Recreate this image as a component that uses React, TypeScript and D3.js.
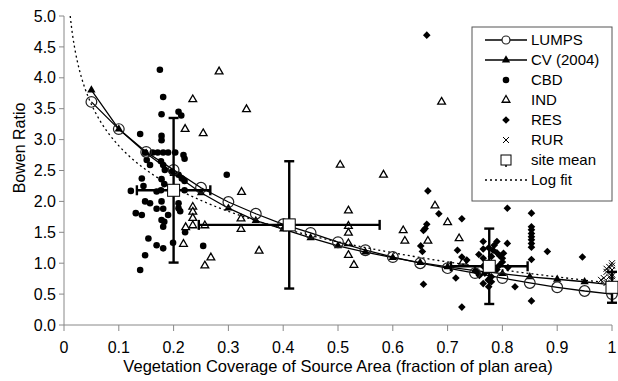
import React from "react";
import * as d3 from "d3";

const W = 618;
const H = 381;

const xTicks = [0, 0.1, 0.2, 0.3, 0.4, 0.5, 0.6, 0.7, 0.8, 0.9, 1];
const yTicks = [0, 0.5, 1, 1.5, 2, 2.5, 3, 3.5, 4, 4.5, 5];

const modelX = [0.05, 0.1, 0.15, 0.2, 0.25, 0.3, 0.35, 0.4, 0.45, 0.5, 0.55, 0.6, 0.65, 0.7, 0.75, 0.8, 0.85, 0.9, 0.95, 1.0];
const lumpsY = [3.61, 3.17, 2.8, 2.51, 2.22, 1.99, 1.8, 1.63, 1.49, 1.34, 1.21, 1.1, 1.0, 0.92, 0.84, 0.76, 0.68, 0.61, 0.55, 0.5];
const cvY = [3.8, 3.17, 2.78, 2.45, 2.14, 1.89, 1.69, 1.55, 1.41, 1.28, 1.18, 1.09, 1.01, 0.94, 0.88, 0.83, 0.78, 0.74, 0.7, 0.65];

const logFitA = 0.676;
const logFitB = -0.966;

const cbdPoints: [number, number][] = [
  [0.175, 4.13], [0.181, 3.69], [0.178, 3.41], [0.209, 3.45], [0.214, 3.39], [0.139, 3.09],
  [0.178, 3.06], [0.178, 2.99], [0.218, 2.75], [0.22, 2.69], [0.148, 2.79], [0.162, 2.79],
  [0.171, 2.79], [0.181, 2.79], [0.19, 2.79], [0.203, 2.79], [0.151, 2.67], [0.177, 2.65],
  [0.157, 2.59], [0.181, 2.59], [0.184, 2.51], [0.197, 2.48], [0.209, 2.43], [0.215, 2.37],
  [0.22, 2.33], [0.142, 2.37], [0.178, 2.36], [0.145, 2.25], [0.183, 2.28], [0.122, 2.17],
  [0.169, 2.16], [0.177, 2.18], [0.22, 2.18], [0.148, 2.0], [0.157, 1.97], [0.178, 2.0],
  [0.209, 1.97], [0.131, 1.81], [0.142, 1.78], [0.169, 1.88], [0.181, 1.88], [0.19, 1.78],
  [0.209, 1.89], [0.212, 1.84], [0.178, 1.7], [0.183, 1.67], [0.181, 1.59], [0.221, 1.5],
  [0.154, 1.4], [0.169, 1.29], [0.181, 1.24], [0.199, 1.33], [0.254, 1.28], [0.148, 1.13],
  [0.139, 0.89], [0.297, 2.43],
];

const indPoints: [number, number][] = [
  [0.283, 4.1], [0.235, 3.65], [0.221, 3.17], [0.254, 3.1], [0.235, 1.91], [0.235, 1.83],
  [0.235, 1.73], [0.235, 1.61], [0.222, 1.58], [0.257, 1.61], [0.218, 1.31], [0.268, 1.09],
  [0.257, 0.96], [0.333, 3.49], [0.504, 2.59], [0.583, 2.43], [0.324, 2.15], [0.519, 1.85],
  [0.323, 1.72], [0.519, 1.6], [0.323, 1.55], [0.519, 1.49], [0.519, 1.32], [0.356, 1.2],
  [0.519, 1.13], [0.529, 0.97], [0.689, 3.61], [0.677, 1.93], [0.7, 1.66], [0.619, 1.53],
  [0.622, 1.36], [0.664, 1.36], [0.721, 1.4], [0.728, 1.02],
];

const resPoints: [number, number][] = [
  [0.662, 4.69], [0.664, 2.17], [0.684, 1.8], [0.726, 1.72], [0.662, 1.63], [0.659, 1.56],
  [0.656, 1.53], [0.651, 1.28], [0.654, 1.19], [0.718, 1.21], [0.726, 1.1], [0.735, 1.05],
  [0.715, 0.76], [0.656, 0.66], [0.726, 0.29], [0.809, 1.89], [0.809, 1.32], [0.802, 1.16],
  [0.823, 0.62], [0.765, 1.35], [0.765, 1.23], [0.765, 1.08], [0.765, 0.95], [0.768, 0.84],
  [0.765, 0.67], [0.783, 1.21], [0.79, 1.17], [0.795, 1.12], [0.8, 1.08], [0.774, 0.73],
  [0.78, 0.78], [0.753, 0.86], [0.758, 0.8], [0.772, 1.0], [0.79, 0.9], [0.795, 0.97],
  [0.78, 1.11], [0.785, 1.29], [0.775, 1.25], [0.8, 1.02], [0.81, 0.93], [0.757, 1.14],
  [0.775, 0.62], [0.79, 1.35], [0.78, 0.7], [0.853, 1.81], [0.853, 1.59], [0.853, 1.54],
  [0.853, 1.48], [0.853, 1.43], [0.853, 1.38], [0.853, 1.32], [0.853, 1.26], [0.853, 1.06],
  [0.853, 0.39], [0.882, 1.19], [0.946, 1.1],
];

const rurPoints: [number, number][] = [
  [1.0, 1.0], [0.995, 0.94], [1.0, 0.89], [0.99, 0.86], [1.0, 0.82], [0.995, 0.78],
  [0.985, 0.76], [0.98, 0.73], [1.0, 0.72], [0.99, 0.68], [1.0, 0.96], [0.99, 0.91], [1.0, 0.79],
];

const siteX = [0.2, 0.411, 0.776, 1.0];
const siteY = [2.18, 1.62, 0.95, 0.61];
const siteXErr = [0.067, 0.165, 0.07, 0];
const siteYErr = [1.17, 1.03, 0.61, 0.25];

const legendLabels = ["LUMPS", "CV (2004)", "CBD", "IND", "RES", "RUR", "site mean", "Log fit"];

const FONT = "Arial, 'Liberation Sans', sans-serif";

export default function App() {
  const x = d3.scaleLinear().domain([0, 1]).range([64, 612]);
  const y = d3.scaleLinear().domain([0, 5]).range([325, 16]);

  const line = d3.line<[number, number]>().x((d) => x(d[0])).y((d) => y(d[1]));
  const lumpsData = modelX.map((v, i) => [v, lumpsY[i]] as [number, number]);
  const cvData = modelX.map((v, i) => [v, cvY[i]] as [number, number]);

  const xStart = Math.exp((5 - logFitA) / logFitB);
  const fitXs = d3.range(0, 201).map((i) => xStart * Math.pow(1 / xStart, i / 200));
  const fitData = fitXs.map((v) => [v, logFitA + logFitB * Math.log(v)] as [number, number]);

  const circleSym = d3.symbol().type(d3.symbolCircle);
  const triSym = d3.symbol().type(d3.symbolTriangle);

  const dotPath = circleSym.size(34)()!;
  const triOpen = triSym.size(26)()!;
  const triFilled = triSym.size(30)()!;
  const dr = 3.8;
  const diaPath = `M0,${-dr}L${dr},0L0,${dr}L${-dr},0Z`;
  const bigCircle = circleSym.size(90)()!;
  const xs = 3;
  const xMark = `M${-xs},${-xs}L${xs},${xs}M${-xs},${xs}L${xs},${-xs}`;

  const legX = 472;
  const legY = 27;
  const legRowY = (i: number) => legY + 13 + i * 20;

  return (
    <svg width={W} height={H} style={{ position: "absolute", left: 0, top: 0 }} fontFamily={FONT}>
      <rect width={W} height={H} fill="#fff" />
      {/* axes */}
      <line x1={x(0)} x2={x(0)} y1={y(5)} y2={y(0)} stroke="#888" strokeWidth={1} />
      <line x1={x(0)} x2={x(1)} y1={y(0)} y2={y(0)} stroke="#888" strokeWidth={1} />
      {yTicks.map((t) => (
        <g key={"y" + t}>
          <line x1={x(0) - 5} x2={x(0)} y1={y(t)} y2={y(t)} stroke="#888" />
          <text x={x(0) - 8} y={y(t)} dy="0.35em" textAnchor="end" fontSize={16} fill="#000">
            {t.toFixed(1)}
          </text>
        </g>
      ))}
      {xTicks.map((t) => (
        <g key={"x" + t}>
          <line x1={x(t)} x2={x(t)} y1={y(0)} y2={y(0) + 6} stroke="#888" />
          <text x={x(t)} y={y(0) + 22} dy="0.35em" textAnchor="middle" fontSize={16} fill="#000">
            {String(t)}
          </text>
        </g>
      ))}
      <text x={338} y={366} dy="0.35em" textAnchor="middle" fontSize={16.5} fill="#000">
        Vegetation Coverage of Source Area (fraction of plan area)
      </text>
      <text transform={`translate(19,148) rotate(-90)`} dy="0.35em" textAnchor="middle" fontSize={16} fill="#000">
        Bowen Ratio
      </text>

      {/* scatter */}
      {cbdPoints.map((p, i) => (
        <path key={"c" + i} d={dotPath} transform={`translate(${x(p[0])},${y(p[1])})`} fill="#000" />
      ))}
      {indPoints.map((p, i) => (
        <path key={"t" + i} d={triOpen} transform={`translate(${x(p[0])},${y(p[1])})`} fill="#fff" stroke="#000" strokeWidth={1.3} />
      ))}
      {resPoints.map((p, i) => (
        <path key={"r" + i} d={diaPath} transform={`translate(${x(p[0])},${y(p[1])})`} fill="#000" />
      ))}
      {rurPoints.map((p, i) => (
        <path key={"u" + i} d={xMark} transform={`translate(${x(p[0])},${y(p[1])})`} fill="none" stroke="#000" strokeWidth={1} />
      ))}

      {/* log fit */}
      <path d={line(fitData)!} fill="none" stroke="#000" strokeWidth={1.3} strokeDasharray="2,3" />

      {/* CV line */}
      <path d={line(cvData)!} fill="none" stroke="#000" strokeWidth={1.3} />
      {cvData.map((p, i) => (
        <path key={"cv" + i} d={triFilled} transform={`translate(${x(p[0])},${y(p[1])})`} fill="#000" />
      ))}
      {/* LUMPS line */}
      <path d={line(lumpsData)!} fill="none" stroke="#000" strokeWidth={1.3} />
      {lumpsData.map((p, i) => (
        <path key={"l" + i} d={bigCircle} transform={`translate(${x(p[0])},${y(p[1])})`} fill="none" stroke="#222" strokeWidth={1.2} />
      ))}

      {/* site means with error bars */}
      {siteX.map((sx, i) => {
        const cx = x(sx);
        const cy = y(siteY[i]);
        const y1 = y(siteY[i] + siteYErr[i]);
        const y2 = y(siteY[i] - siteYErr[i]);
        const x1 = x(sx - siteXErr[i]);
        const x2 = x(sx + siteXErr[i]);
        return (
          <g key={"s" + i} stroke="#000" strokeWidth={2.4}>
            <line x1={cx} x2={cx} y1={y1} y2={y2} />
            <line x1={cx - 5} x2={cx + 5} y1={y1} y2={y1} />
            <line x1={cx - 5} x2={cx + 5} y1={y2} y2={y2} />
            {siteXErr[i] > 0 && (
              <>
                <line x1={x1} x2={x2} y1={cy} y2={cy} />
                <line x1={x1} x2={x1} y1={cy - 5} y2={cy + 5} />
                <line x1={x2} x2={x2} y1={cy - 5} y2={cy + 5} />
              </>
            )}
            <rect x={cx - 6} y={cy - 6} width={12} height={12} fill="#fff" stroke="#000" strokeWidth={1} />
          </g>
        );
      })}

      {/* legend */}
      <rect x={legX} y={legY} width={140} height={174} fill="#fff" stroke="#555" strokeWidth={1} />
      {legendLabels.map((lab, i) => {
        const ry = legRowY(i);
        const mx = 506;
        let sample: React.ReactNode = null;
        if (i === 0) {
          sample = (
            <>
              <line x1={485} x2={527} y1={ry} y2={ry} stroke="#000" strokeWidth={1.3} />
              <path d={circleSym.size(50)()!} transform={`translate(${mx},${ry})`} fill="#fff" stroke="#222" strokeWidth={1.2} />
            </>
          );
        } else if (i === 1) {
          sample = (
            <>
              <line x1={485} x2={527} y1={ry} y2={ry} stroke="#000" strokeWidth={1.3} />
              <path d={triFilled} transform={`translate(${mx},${ry})`} fill="#000" />
            </>
          );
        } else if (i === 2) {
          sample = <path d={dotPath} transform={`translate(${mx},${ry})`} fill="#000" />;
        } else if (i === 3) {
          sample = <path d={triOpen} transform={`translate(${mx},${ry})`} fill="#fff" stroke="#000" strokeWidth={1.3} />;
        } else if (i === 4) {
          sample = <path d={diaPath} transform={`translate(${mx},${ry})`} fill="#000" />;
        } else if (i === 5) {
          sample = <path d={xMark} transform={`translate(${mx},${ry})`} fill="none" stroke="#000" strokeWidth={1} />;
        } else if (i === 6) {
          sample = (
            <g>
              <line x1={mx} x2={mx} y1={ry} y2={ry + 7} stroke="#000" strokeWidth={1.5} />
              <rect x={mx - 5} y={ry - 5} width={10} height={10} fill="#fff" stroke="#000" strokeWidth={1} />
            </g>
          );
        } else {
          sample = <line x1={485} x2={527} y1={ry} y2={ry} stroke="#000" strokeWidth={1.3} strokeDasharray="2,3" />;
        }
        return (
          <g key={"lg" + i}>
            {sample}
            <text x={531} y={ry} dy="0.35em" fontSize={15} fill="#000">
              {lab}
            </text>
          </g>
        );
      })}
    </svg>
  );
}
